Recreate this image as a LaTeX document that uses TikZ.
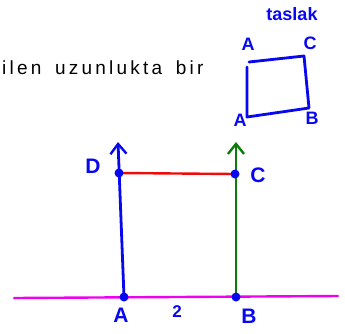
\documentclass[tikz,border=0pt]{standalone}
\usepackage{fontspec}
\setmainfont{Liberation Sans}
\setsansfont{Liberation Sans}
\newfontfamily\bodyfont[LetterSpace=17, WordSpace=1.6]{Liberation Sans}
\usetikzlibrary{arrows.meta, positioning}

\definecolor{penblue}{RGB}{8,8,240}
\definecolor{pengreen}{RGB}{10,125,10}
\definecolor{penred}{RGB}{240,10,10}
\definecolor{penmagenta}{RGB}{240,0,240}

\begin{document}
\begin{tikzpicture}[x=1pt, y=-1pt, line cap=round, line join=round,
  pen/.style={penblue, line width=2.8pt},
  dot/.style={circle, fill=penblue, inner sep=0pt, minimum size=9pt},
  hand/.style={text=penblue, inner sep=0pt, font=\sffamily\bfseries\fontsize{21}{21}\selectfont},
  smallhand/.style={hand, font=\sffamily\bfseries\fontsize{18}{18}\selectfont},
  tip/.style={-{Straight Barb[length=10pt, width=16pt, line width=2.4pt]}}]

  \useasboundingbox (0,0) rectangle (345,333);

  % text line
  \node[anchor=west, inner sep=0pt, font=\bodyfont\fontsize{19}{19}\selectfont] (sentence) at (2,68) {ilen uzunlukta bir};

  % sketch at the top right
  \node[smallhand] (taslak) at (292,14) {taslak};
  \coordinate (sq1) at (247,67);
  \coordinate (sq2) at (304,56);
  \coordinate (sq3) at (309,108);
  \coordinate (sq4) at (247,117);
  \draw[pen] (249,62) -- (sq2) -- (sq3) -- (sq4) -- (sq1);
  \node[smallhand] (sqA) at (248,44) {A};
  \node[smallhand] (sqC) at (310,43) {C};
  \node[smallhand] (sqA2) at (240,120) {A};
  \node[smallhand] (sqB) at (312,118) {B};

  % base line and points
  \coordinate (left) at (14,298);
  \coordinate (right) at (338,296);
  \coordinate (A) at (124,297);
  \coordinate (B) at (236,297);
  \coordinate (D) at (119,173);
  \coordinate (C) at (235,174);
  \coordinate (Dtop) at (118,142);
  \coordinate (Ctop) at (236,142);

  \draw[penmagenta, line width=2.4pt] (left) -- (right);
  \draw[pen, tip] (A) -- (Dtop);
  \draw[pengreen, line width=2.6pt, tip] (B) -- (Ctop);
  \draw[penred, line width=2.4pt] (D) -- (C);

  \node[dot] (dotA) at (A) {};
  \node[dot] (dotB) at (B) {};
  \node[dot] (dotC) at (C) {};
  \node[dot] (dotD) at (D) {};

  \node[hand] (lA) at (121,315) {A};
  \node[hand] (lB) at (249,316) {B};
  \node[hand] (lC) at (258,175) {C};
  \node[hand] (lD) at (93,166) {D};
  \node[hand, font=\sffamily\bfseries\fontsize{17}{17}\selectfont] (side) at (177,312) {2};

\end{tikzpicture}
\end{document}
